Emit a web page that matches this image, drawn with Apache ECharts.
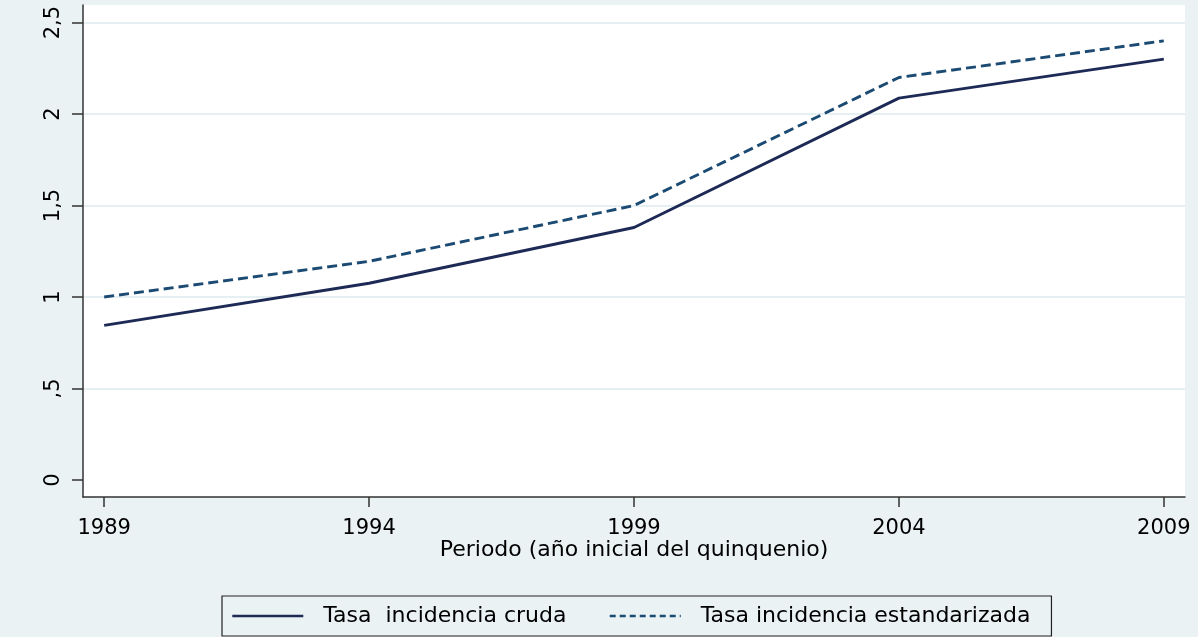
<!DOCTYPE html>
<html>
<head>
<meta charset="utf-8">
<script src="https://cdn.jsdelivr.net/npm/echarts@6/dist/echarts.min.js"></script>
<style>
html,body{margin:0;padding:0;background:#eaf2f3;}
#chart{width:1198px;height:637px;}
</style>
</head>
<body>
<div id="chart"></div>
<script>
var years = [1989, 1994, 1999, 2004, 2009];
var tasaCruda = [0.845, 1.075, 1.38, 2.087, 2.30];
var tasaEstandarizada = [1.0, 1.195, 1.50, 2.20, 2.40];
var seriesNames = ['Tasa  incidencia cruda', 'Tasa incidencia estandarizada'];
var yTickValues = [0, 0.5, 1, 1.5, 2, 2.5];
var yTickLabels = ['0', ',5', '1', '1,5', '2', '2,5'];
var xTickValues = [1989, 1994, 1999, 2004, 2009];
var xTitle = 'Periodo (año inicial del quinquenio)';

function pairs(xs, ys) { return xs.map(function (x, i) { return [x, ys[i]]; }); }

var FONT = 'DejaVu Sans';
var chart = echarts.init(document.getElementById('chart'), null, {renderer: 'canvas'});
chart.setOption({
  backgroundColor: '#eaf2f3',
  animation: false,
  textStyle: {fontFamily: FONT},
  grid: {
    left: 83, top: 5, right: 13, bottom: 140,
    show: true, backgroundColor: '#ffffff', borderWidth: 0
  },
  xAxis: {
    type: 'value',
    min: 1988.6, max: 2009.4,
    name: xTitle,
    nameLocation: 'middle',
    nameGap: 42,
    nameMoveOverlap: false,
    nameTextStyle: {color: '#000', fontSize: 22, fontFamily: FONT},
    axisLine: {show: true, onZero: false, lineStyle: {color: '#333', width: 1.5}},
    axisTick: {show: true, length: 10, customValues: xTickValues, lineStyle: {color: '#333', width: 1.5}},
    axisLabel: {
      customValues: xTickValues, color: '#000', fontSize: 21, fontFamily: FONT, margin: 21,
      formatter: function (v) { return String(v); }
    },
    splitLine: {show: false}
  },
  yAxis: {
    type: 'value',
    min: -0.093, max: 2.596,
    axisLine: {show: true, onZero: false, lineStyle: {color: '#333', width: 1.5}},
    axisTick: {show: true, length: 11, customValues: yTickValues, lineStyle: {color: '#333', width: 1.5}},
    axisLabel: {
      customValues: yTickValues, rotate: 90, color: '#000', fontSize: 21, fontFamily: FONT, margin: 19,
      formatter: function (v) {
        var i = yTickValues.indexOf(Math.round(v * 10) / 10);
        return i >= 0 ? yTickLabels[i] : '';
      }
    },
    splitLine: {show: true, lineStyle: {color: ['#ffffff', '#e6eff1', '#e6eff1', '#e6eff1', '#e6eff1', '#e6eff1'], width: 2}}
  },
  legend: {
    left: 222, top: 596,
    orient: 'horizontal',
    padding: [9, 21, 9, 9],
    itemGap: 42,
    itemWidth: 71,
    itemHeight: 22,
    backgroundColor: '#eaf2f3',
    borderColor: '#222',
    borderWidth: 1.2,
    borderRadius: 0,
    itemStyle: {opacity: 0},
    lineStyle: {width: 2.6},
    textStyle: {color: '#000', fontSize: 22, fontFamily: FONT, padding: [0, 0, 0, 15]},
    data: [
      {name: seriesNames[0]},
      {name: seriesNames[1], lineStyle: {type: [6, 4], width: 2.6}}
    ]
  },
  series: [
    {
      name: seriesNames[0], type: 'line', symbol: 'none',
      data: pairs(years, tasaCruda),
      lineStyle: {color: '#1e2a56', width: 2.9, type: 'solid'},
      itemStyle: {color: '#1e2a56'}
    },
    {
      name: seriesNames[1], type: 'line', symbol: 'none',
      data: pairs(years, tasaEstandarizada),
      lineStyle: {color: '#1b4a72', width: 2.9, type: [10, 5]},
      itemStyle: {color: '#1b4a72'}
    }
  ]
});
</script>
</body>
</html>
